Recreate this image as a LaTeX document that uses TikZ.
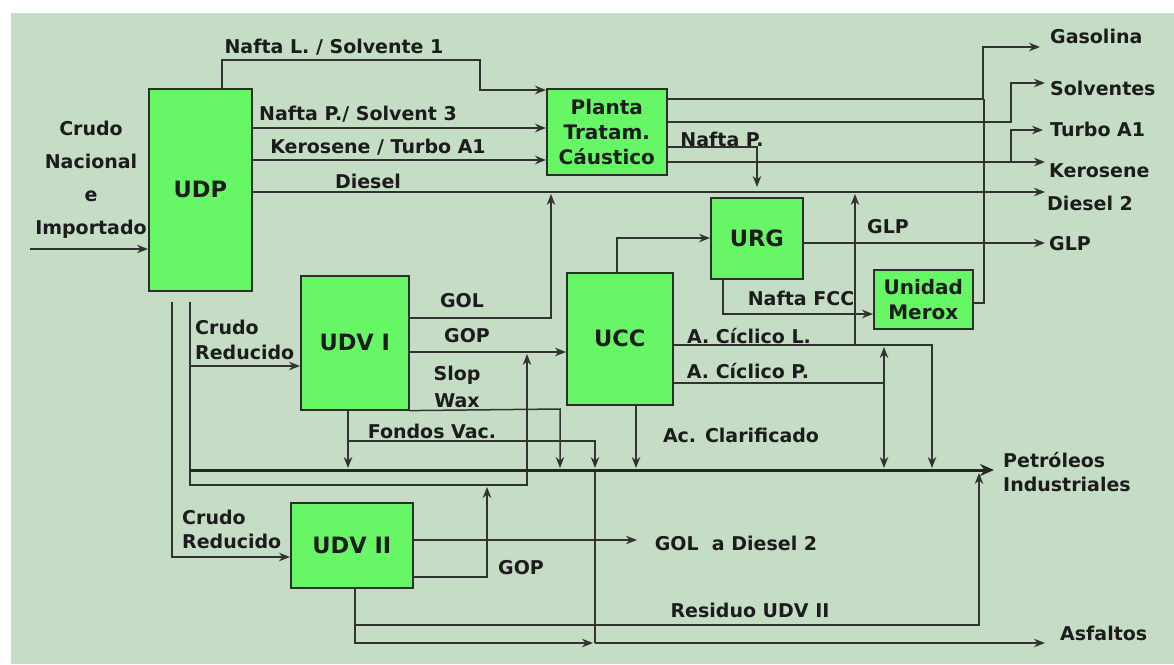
\documentclass[tikz,border=0pt]{standalone}
\usepackage{fontspec}
\setmainfont{DejaVu Sans}
\usetikzlibrary{arrows.meta}
\definecolor{bgc}{RGB}{197,220,197}
\definecolor{boxgreen}{RGB}{102,246,102}
\definecolor{ln}{RGB}{50,50,50}
\definecolor{txt}{RGB}{28,28,28}
\definecolor{edge}{RGB}{45,45,45}
\newcommand\lblfont{\bfseries\fontsize{19}{22}\selectfont}
\newcommand\unitfont{\bfseries\fontsize{22.5}{26}\selectfont}
\newcommand\midfont{\bfseries\fontsize{20}{25}\selectfont}
\begin{document}
\begin{tikzpicture}[x=1pt,y=-1pt,
  unit/.style={draw=edge, line width=1.6pt, fill=boxgreen, inner sep=0pt, anchor=north west, font=\unitfont, text=txt, align=center},
  flow/.style={draw=ln, line width=1.5pt},
  arr/.style={flow, -{Stealth[length=11pt,width=8.5pt]}},
  dbl/.style={flow, {Stealth[length=11pt,width=8.5pt]}-{Stealth[length=11pt,width=8.5pt]}},
  lbl/.style={font=\lblfont, text=txt, inner sep=0pt, text height=14pt, text depth=4pt},
  mlbl/.style={text=txt, inner sep=0pt},
  bus/.style={draw=black!85, line width=3pt}
]
\useasboundingbox (0,0) rectangle (1174,664);
\fill[white] (0,0) rectangle (1174,664);
\fill[bgc] (11,13) rectangle (1174,664);

% units
\node[unit, minimum width=103pt, minimum height=202pt] (udp) at (148,88) {UDP};
\node[unit, minimum width=120pt, minimum height=86pt, font=\midfont] (pta) at (546,88) {Planta\\Tratam.\\Cáustico};
\node[unit, minimum width=92pt, minimum height=81pt] (urg) at (710,197) {URG};
\node[unit, minimum width=99pt, minimum height=59pt, font=\midfont] (mer) at (873,269) {Unidad\\Merox};
\node[unit, minimum width=108pt, minimum height=134pt] (udv1) at (300,275) {UDV I};
\node[unit, minimum width=106pt, minimum height=132pt] (ucc) at (566,272) {UCC};
\node[unit, minimum width=122pt, minimum height=85pt] (udv2) at (290,502) {UDV II};

% coordinates
\coordinate (in) at (30,249);
\coordinate (dsl) at (1045,192);
\coordinate (gas) at (1040,47);
\coordinate (sol) at (1045,83);
\coordinate (ker) at (1045,162);
\coordinate (kb) at (1011,162);
\coordinate (tur) at (1043,130);
\coordinate (glp) at (1045,243);
\coordinate (gold) at (637,540);
\coordinate (asf) at (1045,643);
\coordinate (acl) at (855,345);
\coordinate (fv) at (348,441);
\coordinate (cr) at (190,366);
\coordinate (rs) at (355,625);
\coordinate (fvb) at (595,470);
\coordinate (asj) at (595,643);
\coordinate (busa) at (190,470);
\coordinate (busb) at (994,470);

% input
\draw[arr] (in) -- (udp.west |- in);

% UDP outputs
\draw[arr] (udp.north -| 222,0) -- (222,60) -- (480,60) -- (480,90) -- (pta.west |- 0,90);
\draw[arr] (udp.east |- 0,128) -- (pta.west |- 0,128);
\draw[arr] (udp.east |- 0,160) -- (pta.west |- 0,160);
\draw[arr] (udp.east |- dsl) -- (dsl);

% Planta outputs
\draw[arr] (pta.east |- 0,99) -- (983,99) -- (983,47) -- (gas);
\draw[arr] (pta.east |- 0,122) -- (1011,122) -- (1011,83) -- (sol);
\draw[arr] (pta.east |- ker) -- (ker);
\draw[arr] (kb) -- (1011,130) -- (tur);
\draw[arr, shorten >=10pt] (pta.east |- 0,147) -- (757,147) -- (urg.north -| 757,0);

% URG / Merox
\draw[arr] (ucc.north -| 617,0) -- (617,238) -- (urg.west |- 0,238);
\draw[arr] (urg.east |- glp) -- (glp);
\draw[arr] (urg.south -| 723,0) -- (723,314) -- (mer.west |- 0,314);
\draw[flow] (mer.east |- 0,303) -- (984,303) -- (984,99);

% UCC outputs
\draw[arr] (ucc.east |- acl) -- (932,345) -- (932,468);
\draw[arr] (acl) -- (855,194);
\draw[flow] (ucc.east |- 0,383) -- (884,383);
\draw[dbl] (884,468) -- (884,347);
\draw[arr] (ucc.south -| 636,0) -- (636,468);

% UDV I outputs
\draw[arr] (udv1.east |- 0,318) -- (551,318) -- (551,194);
\draw[arr] (udv1.east |- 0,352) -- (ucc.west |- 0,352);
\draw[arr] (udv1.south east) -- (560,409) -- (560,468);
\draw[arr] (udv1.south -| 348,0) -- (348,468);
\draw[arr] (fv) -- (595,441) -- (595,468);
\draw[flow] (fvb) -- (asj);

% UDP bottom
\draw[arr, shorten <=10pt] (udp.south -| cr) -- (cr) -- (udv1.west |- cr);
\draw[arr] (cr) -- (190,485) -- (527,485) -- (527,354);
\draw[arr, shorten <=10pt] (udp.south -| 172,0) -- (172,557) -- (udv2.west |- 0,557);
\draw[bus, -{Stealth[length=14pt,width=12pt]}] (busa) -- (busb);

% UDV II outputs
\draw[arr] (udv2.east |- gold) -- (gold);
\draw[arr] (udv2.east |- 0,577) -- (487,577) -- (487,487);
\draw[arr] (udv2.south -| 355,0) -- (355,643) -- (593,643);
\draw[arr] (asj) -- (asf);
\draw[arr] (rs) -- (979,625) -- (979,473);

% labels
\node[mlbl, align=center, font=\bfseries\fontsize{19}{33}\selectfont] (tcrudo) at (91,180) {Crudo\\Nacional\\e\\Importado};
\node[lbl] (tnl) at (334,48) {Nafta L. / Solvente 1};
\node[lbl] (tnp) at (358,115) {Nafta P./ Solvent 3};
\node[lbl] (tks) at (378,148) {Kerosene / Turbo A1};
\node[lbl] (tds) at (368,183) {Diesel};
\node[lbl] (tgol) at (462,302) {GOL};
\node[lbl] (tgop) at (467,337) {GOP};
\node[mlbl, align=center, font=\bfseries\fontsize{19}{27}\selectfont] (tslop) at (457,387) {Slop\\Wax};
\node[lbl] (tfv) at (432,433) {Fondos Vac.};
\node[mlbl, align=left, anchor=west, font=\bfseries\fontsize{19}{25}\selectfont] (tcr1) at (195,340) {Crudo\\Reducido};
\node[mlbl, align=left, anchor=west, font=\bfseries\fontsize{19}{24}\selectfont] (tcr2) at (182,529) {Crudo\\Reducido};
\node[lbl] (tnafp) at (722,141) {Nafta P.};
\node[lbl] (tglp) at (888,228) {GLP};
\node[lbl] (tnfcc) at (801,300) {Nafta FCC};
\node[lbl] (tacl) at (749,338) {A. Cíclico L.};
\node[lbl] (tacp) at (748,373) {A. Cíclico P.};
\node[lbl] (tacc) at (741,437) {Ac. Clarificado};
\node[lbl] (tgold) at (736,545) {GOL\ \ a Diesel 2};
\node[lbl] (tgop2) at (521,569) {GOP};
\node[lbl] (tres) at (750,612) {Residuo UDV II};
\node[lbl, anchor=west] (tgas) at (1050,38) {Gasolina};
\node[lbl, anchor=west] (tsol) at (1050,90) {Solventes};
\node[lbl, anchor=west] (ttur) at (1050,131) {Turbo A1};
\node[lbl, anchor=west] (tker) at (1049,172) {Kerosene};
\node[lbl, anchor=west] (tdsl) at (1047,205) {Diesel 2};
\node[lbl, anchor=west] (tglp2) at (1049,245) {GLP};
\node[mlbl, align=left, anchor=west, font=\bfseries\fontsize{19}{24}\selectfont] (tpi) at (1003,472) {Petróleos\\Industriales};
\node[lbl, anchor=west] (tasf) at (1060,635) {Asfaltos};
\end{tikzpicture}
\end{document}
